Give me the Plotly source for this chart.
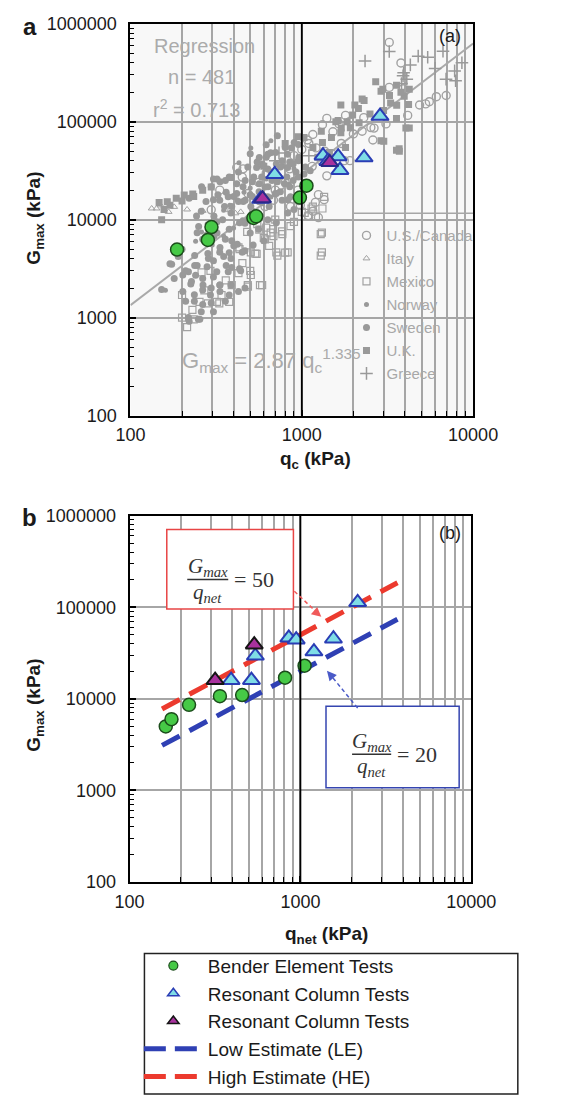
import plotly.graph_objects as go

W, H = 581, 1106

# ---------------- data: panel (a) database (qc [kPa], Gmax [kPa]) ----------------
us_canada = [(3240, 645000), (3900, 217000), (4150, 116000), (4870, 148000), (5550, 160000),
             (6100, 180000), (6960, 185000), (1320, 93000), (1160, 74000), (2530, 87000),
             (1800, 116000), (1400, 108000), (454, 33000), (900, 45000), (1000, 52000),
             (1100, 60000), (850, 33000), (620, 30000), (560, 24000), (1050, 22000),
             (1160, 12200), (1200, 15000), (1250, 18000), (950, 20000), (1300, 40000),
             (1500, 47000), (1700, 60000), (2000, 75000), (2250, 80000), (3100, 95000),
             (2600, 65000), (1900, 100000), (1150, 35000), (800, 24000), (700, 20000),
             (1400, 28000), (1350, 16000), (1090, 11000), (1250, 10500), (980, 14000),
             (1210, 54000), (1360, 50000), (1520, 79000), (1770, 40000), (1910, 40000),
             (2640, 86000), (3240, 224000), (3790, 398000), (5280, 152000), (683, 15800),
             (610, 13600), (859, 13600), (417, 34100), (449, 27200), (332, 20000),
             (296, 12600), (485, 18500), (1080, 65000), (1650, 95000), (2300, 110000)]
italy = [(133, 13000), (167, 12000), (214, 12700), (410, 11600), (150, 14000),
         (180, 13500), (380, 12500), (440, 12000), (142, 13000), (264, 12300)]
mexico = [(200, 1700), (200, 1000), (214, 800), (234, 960), (253, 1450), (283, 1400),
          (320, 1450), (377, 1450), (390, 2150), (484, 2150), (427, 2850), (500, 3000),
          (570, 2150), (427, 5200), (535, 4500), (645, 5400), (680, 8000), (770, 7100),
          (800, 4600), (1090, 10800), (1140, 13000), (1290, 7100), (1290, 4300), (1320, 13000),
          (620, 8300), (720, 4300), (260, 2900), (293, 3000), (230, 1200), (270, 1900),
          (340, 1700), (360, 2400), (450, 3600), (600, 6500), (700, 10000), (900, 9500),
          (1000, 12000), (550, 9000), (480, 7500), (330, 1400), (433, 5000), (504, 4640),
          (545, 4480), (710, 4640), (827, 4640), (610, 6300), (683, 6800), (504, 2720),
          (587, 2150), (485, 2070), (1040, 11700), (1160, 13600), (1210, 10800),
          (1310, 7360), (1350, 17100), (1310, 4640), (565, 7900), (658, 7360), (767, 7600),
          (859, 8600)]
norway = [(240, 6000), (260, 7500), (280, 9000), (310, 11000), (350, 12500), (380, 14000),
          (420, 16000), (460, 19000), (500, 21000), (560, 23000), (620, 26000), (700, 31000),
          (780, 35000), (880, 38000), (300, 5500), (350, 6800), (400, 8200), (450, 10000),
          (520, 12500), (590, 14500), (660, 17000), (740, 19500), (840, 23000), (960, 27000),
          (160, 1900), (724, 70800), (504, 54000), (430, 38000), (660, 64000), (900, 33000)]
sweden = [(174, 3500), (152, 1930), (237, 4300), (283, 4500), (305, 2600), (265, 2150),
          (333, 2150), (362, 3400), (390, 3250), (293, 1700), (333, 1850), (377, 1700),
          (427, 1850), (466, 2000), (259, 1150), (220, 920), (249, 960), (305, 1150),
          (269, 6400), (320, 7300), (377, 8000), (390, 6100), (466, 4800), (500, 7300),
          (466, 9200), (600, 6100), (377, 4600), (333, 5200), (305, 3800), (237, 3400),
          (390, 13600), (427, 15300), (305, 16000), (362, 19000), (500, 18000), (600, 17200),
          (645, 13600), (700, 18500), (830, 16000), (900, 12700), (296, 21700), (333, 24300),
          (377, 27300), (427, 30700), (484, 34400), (548, 38700), (620, 43400), (703, 48600),
          (800, 54600), (903, 61300), (583, 27300), (662, 30700), (750, 34400), (850, 38700),
          (960, 43400), (454, 21700), (515, 24300), (563, 19300), (635, 21700), (720, 24300),
          (818, 27300), (925, 30700), (1050, 34400), (750, 19300), (850, 21700), (400, 17200),
          (455, 15300), (515, 17200), (354, 13600), (324, 18000), (276, 15300), (259, 12200),
          (243, 10900), (620, 58000), (500, 47000), (320, 26000), (260, 21700), (305, 26000),
          (220, 16500), (720, 72000), (200, 5000), (210, 3000), (180, 2500), (190, 4200),
          (225, 2200), (240, 2700), (280, 3300), (350, 4200), (420, 5600), (440, 3000),
          (520, 5500), (560, 8000), (320, 9500), (280, 7000), (250, 8500),
          (565, 43000), (633, 46400), (658, 48100), (827, 46400), (870, 54000), (955, 58500),
          (545, 34100), (588, 36900), (633, 32900), (710, 36900), (767, 40000), (827, 34100),
          (890, 36900), (955, 40000), (358, 25100), (417, 23200), (467, 25100), (524, 27200),
          (565, 23200), (610, 21500), (670, 25100), (737, 27200), (794, 23200), (890, 25100),
          (955, 27200), (1030, 29300), (1120, 31600), (332, 15800), (372, 17100), (417, 18500),
          (467, 15800), (504, 13600), (565, 15200), (633, 17100), (710, 18500), (767, 15800),
          (859, 17100), (955, 15200), (307, 10800), (345, 10000), (386, 11700), (433, 9300),
          (485, 10000), (633, 10000), (710, 9300), (827, 11700), (245, 7360), (264, 6300),
          (307, 6800), (358, 6300), (401, 5400), (449, 4640), (386, 4000), (332, 4640),
          (285, 4000), (245, 3400), (218, 2930), (264, 2510), (319, 2930), (372, 2930),
          (433, 3160), (202, 2720), (227, 2330), (202, 1850), (236, 1710), (264, 1910),
          (296, 2000), (332, 2150), (386, 2150), (210, 1470), (236, 1470), (264, 1360),
          (296, 1410), (358, 1470), (218, 1000), (254, 960), (170, 3550)]
uk = [(147, 15000), (152, 10000), (157, 12700), (185, 16500), (234, 17200), (200, 15500),
      (170, 14000), (1160, 54600), (1320, 61300), (1490, 68800), (1690, 77200), (1920, 86700),
      (2160, 97300), (1450, 48600), (1800, 54600), (1030, 68800), (1240, 43400), (2700, 256000),
      (2900, 204000), (3570, 235000), (3960, 182000), (3300, 155000), (3570, 108000),
      (2900, 64000), (3570, 51000), (3700, 53000), (4050, 86000), (2040, 148000),
      (2250, 170000), (1630, 103000), (1690, 148000), (800, 60000), (950, 70000),
      (600, 35000), (2500, 120000), (3000, 130000), (4200, 150000), (1300, 80000),
      (164, 15200), (206, 17800), (231, 18300), (264, 20000), (296, 21500), (386, 27000),
      (2970, 215000), (3250, 185000), (3580, 147000), (3790, 200000), (4240, 215000),
      (3710, 50000), (4240, 86000), (3010, 63000), (2310, 165000), (2140, 136000),
      (1980, 117000), (1840, 100000), (1700, 86000), (1580, 100000)]
greece = [(2340, 416000), (4780, 467000), (5430, 455000), (6670, 523000), (3900, 294000),
          (3820, 245000), (6950, 272000), (7900, 262000), (7800, 330000), (8600, 400000),
          (600, 34000), (700, 40000), (1100, 45000), (4300, 380000), (6000, 350000),
          (736, 48000), (3930, 316000), (4100, 272000), (3240, 520000)]

# regression line endpoints (Gmax = 2.87 qc^1.335)
reg_qc = [100, 10000]
reg_g = [1340, 628000]

# ---------------- data: test results ----------------
bender_qc = [187, 283, 297, 522, 542, 975, 1065]
bender_g_a = [4950, 6200, 8400, 10400, 10800, 16800, 22200]
rc_qc = [575, 695, 1330, 1420, 1630, 1670, 2310, 2860]
rc_g_a = [16200, 29000, 45000, 39500, 44000, 32000, 43000, 114000]
rcm_qc = [590, 1455]
rcm_g_a = [16400, 38500]

bender_qnet = [163, 176, 223, 338, 456, 813, 1058]
bender_g_b = [5000, 6000, 8600, 10700, 11000, 17000, 23000]
rc_qnet = [393, 517, 545, 855, 945, 1200, 1561, 2163]
rc_g_b = [16000, 16000, 29500, 46400, 44200, 32800, 45300, 113200]
rcm_qnet = [317, 537]
rcm_g_b = [16000, 39000]

est_qnet = [155, 3700]
le_g = [3100, 74000]     # Gmax/qnet = 20
he_g = [7750, 185000]    # Gmax/qnet = 50


def xp(px):
    return px / W


def yp(py):
    return 1 - py / H


FONT = "Liberation Sans, Arial, sans-serif"
GRAY = "#999999"
OPEN_GRAY = "#a2a2a2"

fig = go.Figure()


def gray_trace(points, name, symbol, size, color, lw=0):
    q, g = zip(*points)
    return go.Scatter(x=list(q), y=list(g), mode="markers", name=name,
                      legend="legend2", legendgroup=name,
                      marker=dict(symbol=symbol, size=size, color=color,
                                  line=dict(width=lw, color=color)),
                      xaxis="x", yaxis="y", hoverinfo="skip")


fig.add_trace(go.Scatter(x=reg_qc, y=reg_g, mode="lines", line=dict(color="#a9a9a9", width=2),
                         showlegend=False, xaxis="x", yaxis="y", hoverinfo="skip"))
fig.add_trace(gray_trace(us_canada, "U.S./Canada", "circle-open", 8, OPEN_GRAY, 1.4))
fig.add_trace(gray_trace(italy, "Italy", "triangle-up-open", 6, OPEN_GRAY, 1))
fig.add_trace(gray_trace(mexico, "Mexico", "square-open", 7, OPEN_GRAY, 1.2))
fig.add_trace(gray_trace(norway, "Norway", "circle", 5, GRAY))
fig.add_trace(gray_trace(sweden, "Sweden", "circle", 7, GRAY))
fig.add_trace(gray_trace(uk, "U.K.", "square", 7, GRAY))
fig.add_trace(gray_trace(greece, "Greece", "cross-thin", 9, GRAY, 1.5))

GREEN = "#46c946"
GREEN_EDGE = "#1b4d1b"
CYAN = "#7fdde6"
CYAN_EDGE = "#2a3db5"
MAG = "#a8329e"

fig.add_trace(go.Scatter(x=bender_qc, y=bender_g_a, mode="markers", showlegend=False,
                         marker=dict(symbol="circle", size=13, color=GREEN,
                                     line=dict(width=1.5, color=GREEN_EDGE)),
                         xaxis="x", yaxis="y"))
fig.add_trace(go.Scatter(x=rc_qc, y=rc_g_a, mode="markers", showlegend=False,
                         marker=dict(symbol="triangle-up", size=15, color=CYAN,
                                     line=dict(width=2, color=CYAN_EDGE)),
                         xaxis="x", yaxis="y"))
fig.add_trace(go.Scatter(x=rcm_qc, y=rcm_g_a, mode="markers", showlegend=False,
                         marker=dict(symbol="triangle-up", size=15, color=MAG,
                                     line=dict(width=2, color="#2a2a8a")),
                         xaxis="x", yaxis="y"))

fig.add_trace(go.Scatter(x=est_qnet, y=he_g, mode="lines", showlegend=False,
                         line=dict(color="#ec3a2e", width=5, dash="20px,11px"),
                         xaxis="x2", yaxis="y2"))
fig.add_trace(go.Scatter(x=est_qnet, y=le_g, mode="lines", showlegend=False,
                         line=dict(color="#2f40b4", width=5, dash="20px,11px"),
                         xaxis="x2", yaxis="y2"))
fig.add_trace(go.Scatter(x=bender_qnet, y=bender_g_b, mode="markers", showlegend=False,
                         marker=dict(symbol="circle", size=13, color=GREEN,
                                     line=dict(width=1.5, color=GREEN_EDGE)),
                         xaxis="x2", yaxis="y2"))
fig.add_trace(go.Scatter(x=rc_qnet, y=rc_g_b, mode="markers", showlegend=False,
                         marker=dict(symbol="triangle-up", size=15, color=CYAN,
                                     line=dict(width=2, color=CYAN_EDGE)),
                         xaxis="x2", yaxis="y2"))
fig.add_trace(go.Scatter(x=rcm_qnet, y=rcm_g_b, mode="markers", showlegend=False,
                         marker=dict(symbol="triangle-up", size=15, color=MAG,
                                     line=dict(width=2, color="#151515")),
                         xaxis="x2", yaxis="y2"))

leg_items = [
    dict(name="Bender Element Tests", mode="markers",
         marker=dict(symbol="circle", size=9, color=GREEN, line=dict(width=1.2, color=GREEN_EDGE))),
    dict(name="Resonant Column Tests", mode="markers",
         marker=dict(symbol="triangle-up", size=10, color=CYAN, line=dict(width=1.5, color=CYAN_EDGE))),
    dict(name="Resonant Column Tests ", mode="markers",
         marker=dict(symbol="triangle-up", size=10, color=MAG, line=dict(width=1.5, color="#151515"))),
    dict(name="Low Estimate (LE)", mode="lines", line=dict(color="#2f40b4", width=5, dash="22px,9px")),
    dict(name="High Estimate (HE)", mode="lines", line=dict(color="#ec3a2e", width=5, dash="22px,9px")),
]
for it in leg_items:
    fig.add_trace(go.Scatter(x=[None], y=[None], legend="legend", legendgroup=it["name"],
                             showlegend=True, xaxis="x2", yaxis="y2", **it))

minor_x = [200, 300, 400, 500, 600, 700, 800, 900, 2000, 3000, 4000, 5000, 6000, 7000, 8000, 9000]
minor_y = [m * d for d in (100, 1000, 10000, 100000) for m in range(2, 10)]
tick_font = dict(family=FONT, size=18, color="#1a1a1a")


def xaxis_cfg(dom, anchor):
    return dict(type="log", range=[2, 4], domain=dom, anchor=anchor,
                showline=True, linecolor="black", linewidth=2, mirror=True,
                tickmode="array", tickvals=[100, 1000, 10000], ticktext=["100", "1000", "10000"],
                ticks="inside", ticklen=6, tickcolor="black", tickwidth=1.5,
                showgrid=True, gridcolor="#a6a6a6", gridwidth=1.5, zeroline=False,
                tickfont=tick_font, ticklabelstandoff=2,
                minor=dict(tickmode="array", tickvals=minor_x, showgrid=True,
                           gridcolor="#a6a6a6", gridwidth=1.5, ticks="inside",
                           ticklen=5, tickcolor="black", tickwidth=1))


def yaxis_cfg(dom, anchor):
    return dict(type="log", range=[2, 6], domain=dom, anchor=anchor,
                showline=True, linecolor="black", linewidth=2, mirror=True,
                tickmode="array", tickvals=[100, 1000, 10000, 100000, 1000000],
                ticktext=["100", "1000", "10000", "100000", "1000000"],
                ticks="inside", ticklen=6, tickcolor="black", tickwidth=1.5,
                showgrid=True, gridcolor="#a6a6a6", gridwidth=1.5, zeroline=False,
                tickfont=tick_font, ticklabelstandoff=8,
                minor=dict(tickmode="array", tickvals=minor_y, showgrid=False,
                           ticks="inside", ticklen=4, tickcolor="black", tickwidth=1))


fig.update_layout(
    width=W, height=H, autosize=False,
    margin=dict(l=0, r=0, t=0, b=0),
    paper_bgcolor="white", plot_bgcolor="white",
    font=dict(family=FONT, color="#1a1a1a"),
    xaxis=xaxis_cfg([xp(124), xp(492)], "y"),
    yaxis=yaxis_cfg([yp(413), yp(14)], "x"),
    xaxis2=xaxis_cfg([xp(123), xp(490)], "y2"),
    yaxis2=yaxis_cfg([yp(888), yp(515)], "x2"),
    legend=dict(x=xp(133), y=yp(954), xanchor="left", yanchor="top",
                bgcolor="rgba(0,0,0,0)", borderwidth=0,
                font=dict(family=FONT, size=19, color="#1a1a1a"),
                tracegroupgap=0, itemwidth=59),
    legend2=dict(x=xp(356), y=yp(213), xanchor="left", yanchor="top",
                 bgcolor="rgba(0,0,0,0)", borderwidth=0,
                 font=dict(family=FONT, size=15, color="#a8a8a8"),
                 tracegroupgap=0.5, itemwidth=30),
    showlegend=True,
)

shapes = []
shapes.append(dict(type="rect", xref="x domain", yref="y domain", x0=0, x1=1, y0=0, y1=1,
                   fillcolor="#f8f8f8", line=dict(width=0), layer="below"))
shapes.append(dict(type="line", xref="x", yref="y domain", x0=1000, x1=1000, y0=0, y1=1,
                   line=dict(color="black", width=1.8)))
shapes.append(dict(type="line", xref="x2", yref="y2 domain", x0=1000, x1=1000, y0=0, y1=1,
                   line=dict(color="black", width=1.8)))
shapes.append(dict(type="line", xref="x", yref="paper", x0=2000, x1=10000, y0=yp(207), y1=yp(207),
                   line=dict(color="#a6a6a6", width=1.5)))
shapes.append(dict(type="rect", xref="paper", yref="paper", x0=xp(163), x1=xp(299),
                   y0=yp(610), y1=yp(529), line=dict(color="#e84545", width=1.5),
                   fillcolor="white"))
shapes.append(dict(type="rect", xref="paper", yref="paper", x0=xp(334), x1=xp(477),
                   y0=yp(792), y1=yp(709), line=dict(color="#3545b0", width=1.5),
                   fillcolor="white"))
shapes.append(dict(type="line", xref="paper", yref="paper", x0=xp(185), x1=xp(229),
                   y0=yp(580), y1=yp(580), line=dict(color="#333333", width=1.5)))
shapes.append(dict(type="line", xref="paper", yref="paper", x0=xp(362), x1=xp(404),
                   y0=yp(758), y1=yp(758), line=dict(color="#333333", width=1.5)))
shapes.append(dict(type="line", xref="paper", yref="paper", x0=xp(300), y0=yp(592),
                   x1=xp(327), y1=yp(616), line=dict(color="#f05a5a", width=1.5, dash="4px,3px")))
shapes.append(dict(type="line", xref="paper", yref="paper", x0=xp(368), y0=yp(711),
                   x1=xp(337), y1=yp(675), line=dict(color="#4a5ac8", width=1.5, dash="4px,3px")))
shapes.append(dict(type="rect", xref="paper", yref="paper", x0=xp(139), x1=xp(540),
                   y0=yp(1104), y1=yp(961), line=dict(color="#222222", width=1.5)))
fig.update_layout(shapes=shapes)

ann = []


def txt(x, y, t, size, color="#1a1a1a", xanchor="center", yanchor="middle", family=FONT, **kw):
    ann.append(dict(x=xp(x), y=yp(y), xref="paper", yref="paper", text=t, showarrow=False,
                    xanchor=xanchor, yanchor=yanchor,
                    font=dict(size=size, color=color, family=family), **kw))


txt(16, 17, "<b>a</b>", 24)
txt(16, 517, "<b>b</b>", 24)
txt(467, 26, "(a)", 18)
txt(467, 533, "(b)", 18)
txt(22, 212, "<b>G<sub>max</sub> (kPa)</b>", 19, textangle=-90)
txt(22, 708, "<b>G<sub>max</sub> (kPa)</b>", 19, textangle=-90)
txt(323, 458, "<b>q<sub>c</sub> (kPa)</b>", 19)
txt(335, 942, "<b>q<sub>net</sub> (kPa)</b>", 19)
LG = "#ababab"
txt(203, 37, "Regression", 20, LG)
txt(200, 68, "n = 481", 20, LG)
txt(195, 100, "r<sup>2</sup> = 0.713", 20, LG)
txt(177, 357, "G<sub>max</sub> = 2.87 q<sub>c</sub><sup>1.335</sup>", 22, LG, xanchor="left")
ann.append(dict(x=115, y=1600, xref="x", yref="y", ax=39, ay=59,
                text="", showarrow=True, arrowhead=2, arrowsize=1.2,
                arrowwidth=1.5, arrowcolor="#a0a0a0"))
ann.append(dict(x=xp(329), y=yp(618), xref="paper", yref="paper", ax=-7, ay=-6,
                text="", showarrow=True, arrowhead=2,
                arrowsize=1.6, arrowwidth=1.2, arrowcolor="#f05a5a"))
ann.append(dict(x=xp(335), y=yp(673), xref="paper", yref="paper", ax=6, ay=7,
                text="", showarrow=True, arrowhead=2,
                arrowsize=1.6, arrowwidth=1.2, arrowcolor="#4a5ac8"))
SERIF = "Liberation Serif, DejaVu Serif, serif"
txt(207, 567, "<i>G<sub>max</sub></i>", 21, "#333333", family=SERIF)
txt(207, 594, "<i>q<sub>net</sub></i>", 21, "#333333", family=SERIF)
txt(233, 580, "= 50", 22, "#333333", xanchor="left", family=SERIF)
txt(383, 745, "<i>G<sub>max</sub></i>", 21, "#333333", family=SERIF)
txt(383, 771, "<i>q<sub>net</sub></i>", 21, "#333333", family=SERIF)
txt(408, 758, "= 20", 22, "#333333", xanchor="left", family=SERIF)
fig.update_layout(annotations=ann)

fig.write_html("out.html")
